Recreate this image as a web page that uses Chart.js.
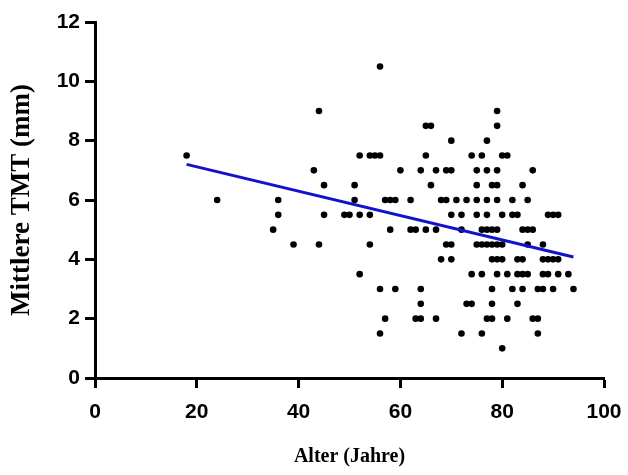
<!DOCTYPE html>
<html>
<head>
<meta charset="utf-8">
<script src="https://cdn.jsdelivr.net/npm/chart.js@4"></script>
<style>
  body { margin: 0; background: #fff; }
</style>
</head>
<body>
<canvas id="tmtChart" width="628" height="475"></canvas>
<script>
const alter = [
    56,
    44, 79,
    65, 66, 79,
    70, 77,
    18, 52, 54, 55, 56, 65, 74, 76, 80, 81,
    43, 60, 64, 67, 69, 70, 75, 77, 79, 86,
    45, 51, 66, 75, 78, 79, 84,
    24, 36, 51, 57, 58, 59, 62, 68, 69, 71, 73, 75, 77, 79, 82, 85,
    36, 45, 49, 50, 52, 54, 70, 72, 75, 77, 80, 82, 83, 89, 90, 91,
    35, 58, 62, 63, 65, 67, 72, 76, 77, 78, 79, 84, 85, 86,
    39, 44, 54, 69, 70, 75, 76, 77, 78, 79, 80, 85, 88,
    68, 70, 78, 79, 80, 83, 84, 88, 89, 90, 91,
    52, 74, 76, 79, 81, 83, 84, 85, 88, 89, 91, 93,
    56, 59, 64, 78, 82, 84, 87, 88, 90, 94,
    64, 73, 74, 78, 83,
    57, 63, 64, 67, 77, 78, 81, 86, 87,
    56, 72, 76, 87,
    80
];
const tmt = [
    10.5,
    9, 9,
    8.5, 8.5, 8.5,
    8, 8,
    7.5, 7.5, 7.5, 7.5, 7.5, 7.5, 7.5, 7.5, 7.5, 7.5,
    7, 7, 7, 7, 7, 7, 7, 7, 7, 7,
    6.5, 6.5, 6.5, 6.5, 6.5, 6.5, 6.5,
    6, 6, 6, 6, 6, 6, 6, 6, 6, 6, 6, 6, 6, 6, 6, 6,
    5.5, 5.5, 5.5, 5.5, 5.5, 5.5, 5.5, 5.5, 5.5, 5.5, 5.5, 5.5, 5.5, 5.5, 5.5, 5.5,
    5, 5, 5, 5, 5, 5, 5, 5, 5, 5, 5, 5, 5, 5,
    4.5, 4.5, 4.5, 4.5, 4.5, 4.5, 4.5, 4.5, 4.5, 4.5, 4.5, 4.5, 4.5,
    4, 4, 4, 4, 4, 4, 4, 4, 4, 4, 4,
    3.5, 3.5, 3.5, 3.5, 3.5, 3.5, 3.5, 3.5, 3.5, 3.5, 3.5, 3.5,
    3, 3, 3, 3, 3, 3, 3, 3, 3, 3,
    2.5, 2.5, 2.5, 2.5, 2.5,
    2, 2, 2, 2, 2, 2, 2, 2, 2,
    1.5, 1.5, 1.5, 1.5,
    1
];

const trendAlter = [18, 94];
const trendTmt = [7.2, 4.08];

const xTicks = [0, 20, 40, 60, 80, 100];
const yTicks = [0, 2, 4, 6, 8, 10, 12];

const tickFont = { family: "'Liberation Sans', Arial, sans-serif", size: 21, weight: 'bold' };
const titleFont = { family: "'Liberation Serif', 'Times New Roman', serif", weight: 'bold' };

const punkte = alter.map((a, i) => ({ x: a, y: tmt[i] }));
const trend = trendAlter.map((a, i) => ({ x: a, y: trendTmt[i] }));

const ctx = document.getElementById('tmtChart').getContext('2d');
new Chart(ctx, {
    type: 'scatter',
    data: {
        datasets: [{
            type: 'line',
            label: 'Regression',
            data: trend,
            borderColor: '#1212cc',
            borderWidth: 3,
            pointRadius: 0,
            fill: false
        }, {
            label: 'TMT',
            data: punkte,
            backgroundColor: '#000',
            borderWidth: 0,
            pointRadius: 3.3
        }]
    },
    options: {
        responsive: false,
        animation: false,
        layout: { padding: { top: 22, right: 24, left: 0, bottom: 0 } },
        plugins: {
            legend: { display: false },
            tooltip: { enabled: false }
        },
        scales: {
            x: {
                type: 'linear',
                min: 0,
                max: 100,
                afterBuildTicks: s => { s.ticks = xTicks.map(v => ({ value: v })); },
                afterFit: s => { s.height = 97; s.paddingLeft = 0; s.paddingRight = 0; },
                ticks: { color: '#000', font: tickFont, padding: 12 },
                grid: { drawOnChartArea: false, tickLength: 10, tickWidth: 3, tickColor: '#000' },
                border: { color: '#000', width: 3 },
                title: {
                    display: true,
                    text: 'Alter (Jahre)',
                    color: '#000',
                    font: { ...titleFont, size: 20 },
                    padding: { top: 0, bottom: 6 }
                }
            },
            y: {
                min: 0,
                max: 12,
                afterBuildTicks: s => { s.ticks = yTicks.map(v => ({ value: v })); },
                afterFit: s => { s.width = 95; },
                ticks: { color: '#000', font: tickFont, padding: 5 },
                grid: { drawOnChartArea: false, tickLength: 10, tickWidth: 3, tickColor: '#000' },
                border: { color: '#000', width: 3 },
                title: {
                    display: true,
                    text: 'Mittlere TMT (mm)',
                    color: '#000',
                    font: { ...titleFont, size: 27 },
                    padding: { top: 6, bottom: 0 }
                }
            }
        }
    }
});
</script>
</body>
</html>
